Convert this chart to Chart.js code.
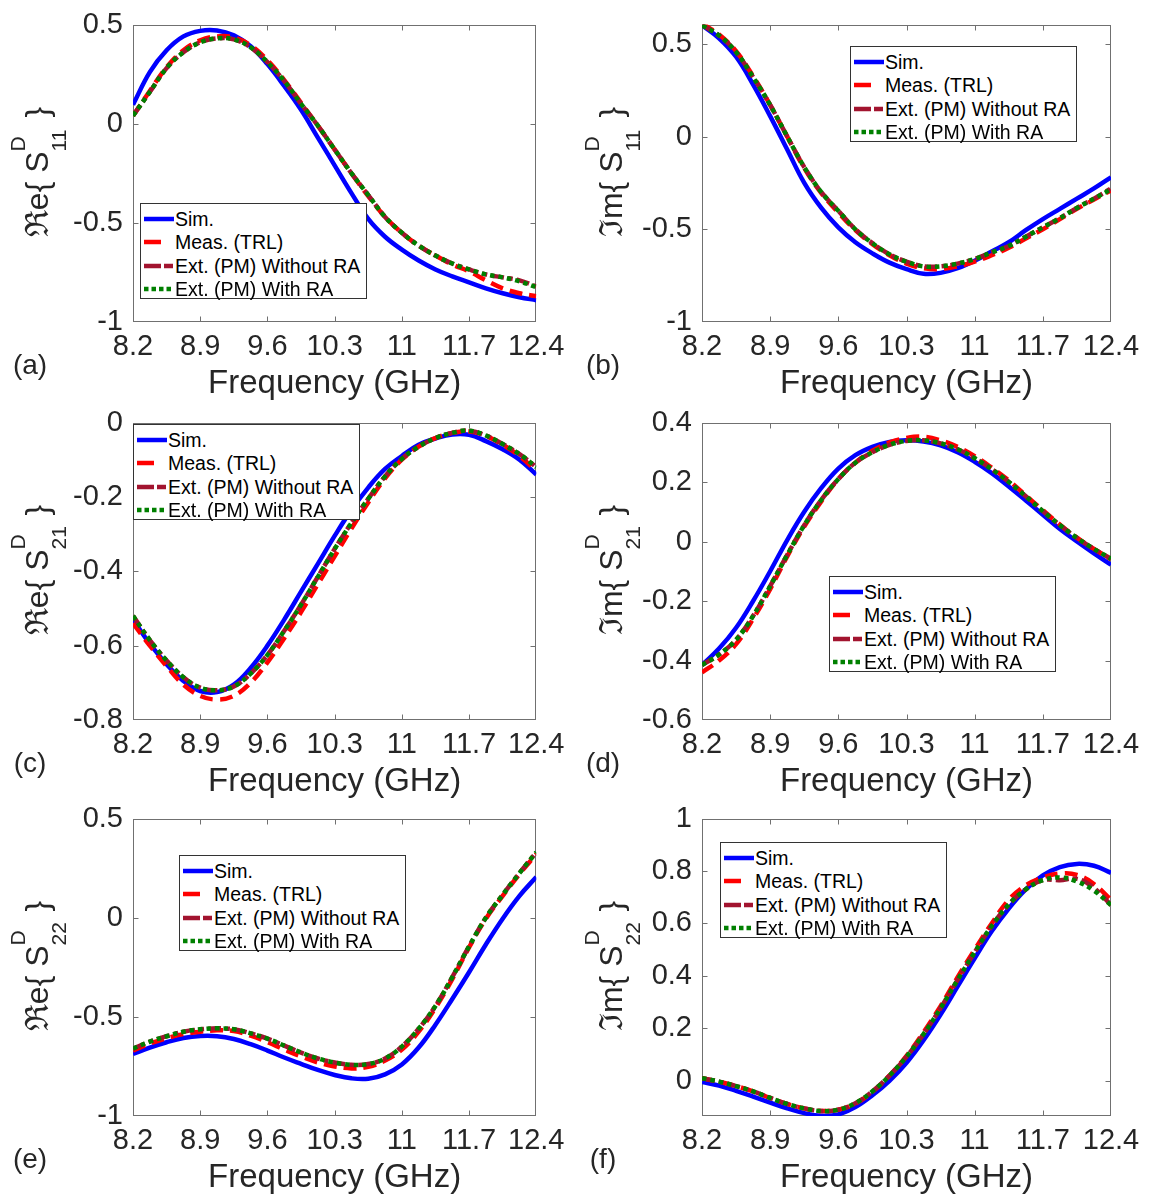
<!DOCTYPE html>
<html>
<head>
<meta charset="utf-8">
<script src="https://cdn.jsdelivr.net/npm/chart.js@4.4.1/dist/chart.umd.min.js"></script>
<style>
html, body { margin: 0; padding: 0; background: #fff; }
#fig { position: relative; width: 1155px; height: 1196px; overflow: hidden;
       font-family: "Liberation Sans", Arial, Helvetica, sans-serif; background: #fff; }
#fig canvas { position: absolute; }
.ylab { position: absolute; white-space: nowrap; font-size: 32px; line-height: 32px; color: #262626;
        transform: translate(-50%, -50%) rotate(-90deg); }
.ss { display: inline-block; position: relative; width: 25px; height: 0; }
.ss span { position: absolute; left: 0; font-size: 21px; line-height: 21px; }
.plab { position: absolute; font-size: 28px; line-height: 28px; color: #262626; transform: translate(-50%, -50%); }
.leg { position: absolute; width: 227px; height: 96px; box-sizing: border-box; border: 1px solid #333; background: #fff; }
.leg .row { position: absolute; left: 0; right: 0; height: 20px; }
.leg svg { position: absolute; left: 2px; top: 5px; }
.leg .txt { position: absolute; left: 34px; top: 0; font-size: 19.5px; line-height: 20px; color: #000; white-space: nowrap; }
</style>
</head>
<body>
<div id="fig"></div>
<script>
// ---------- data ----------
const freq = [8.2, 8.375, 8.55, 8.725, 8.9, 9.075, 9.25, 9.425, 9.6, 9.775, 9.95, 10.125, 10.3,
              10.475, 10.65, 10.825, 11.0, 11.175, 11.35, 11.525, 11.7, 11.875, 12.05, 12.225, 12.4];
const xTickValues = [8.2, 8.9, 9.6, 10.3, 11, 11.7, 12.4];
const xAxisTitle = 'Frequency (GHz)';
const seriesNames = ['Sim.', 'Meas. (TRL)', 'Ext. (PM) Without RA', 'Ext. (PM) With RA'];

// (a) Re{S11}
const reS11_sim   = [0.095, 0.26, 0.37, 0.44, 0.468, 0.47, 0.445, 0.39, 0.30, 0.19, 0.07, -0.07, -0.21,
                     -0.35, -0.48, -0.57, -0.635, -0.69, -0.735, -0.77, -0.80, -0.83, -0.855, -0.875, -0.89];
const reS11_meas  = [0.04, 0.165, 0.285, 0.37, 0.42, 0.44, 0.435, 0.395, 0.32, 0.22, 0.105, -0.01, -0.13,
                     -0.25, -0.365, -0.47, -0.55, -0.615, -0.665, -0.71, -0.745, -0.79, -0.83, -0.855, -0.87];
const reS11_extNo = [0.04, 0.16, 0.28, 0.36, 0.41, 0.43, 0.425, 0.385, 0.31, 0.215, 0.10, -0.01, -0.13,
                     -0.25, -0.36, -0.47, -0.55, -0.615, -0.665, -0.705, -0.735, -0.76, -0.775, -0.79, -0.82];
const reS11_extRA = [0.04, 0.16, 0.28, 0.36, 0.41, 0.43, 0.425, 0.385, 0.31, 0.215, 0.10, -0.01, -0.13,
                     -0.25, -0.36, -0.47, -0.55, -0.615, -0.665, -0.705, -0.735, -0.76, -0.775, -0.795, -0.825];
const reS11_yTicks = [-1, -0.5, 0, 0.5];
const reS11_yRange = [-1, 0.5];

// (b) Im{S11}
const imS11_sim   = [0.60, 0.53, 0.43, 0.28, 0.11, -0.07, -0.25, -0.385, -0.49, -0.57, -0.63, -0.68, -0.715,
                     -0.74, -0.735, -0.71, -0.67, -0.62, -0.57, -0.505, -0.445, -0.39, -0.335, -0.28, -0.22];
const imS11_meas  = [0.61, 0.55, 0.46, 0.325, 0.17, 0.0, -0.17, -0.305, -0.41, -0.505, -0.58, -0.64, -0.685,
                     -0.71, -0.715, -0.70, -0.675, -0.64, -0.60, -0.55, -0.50, -0.445, -0.39, -0.34, -0.29];
const imS11_extNo = [0.60, 0.545, 0.455, 0.32, 0.17, 0.0, -0.165, -0.30, -0.40, -0.50, -0.575, -0.635, -0.675,
                     -0.70, -0.70, -0.685, -0.66, -0.625, -0.59, -0.54, -0.49, -0.44, -0.385, -0.335, -0.28];
const imS11_extRA = [0.60, 0.545, 0.455, 0.32, 0.17, 0.0, -0.165, -0.30, -0.40, -0.50, -0.575, -0.635, -0.675,
                     -0.70, -0.70, -0.685, -0.66, -0.625, -0.59, -0.54, -0.49, -0.44, -0.385, -0.335, -0.285];
const imS11_yTicks = [-1, -0.5, 0, 0.5];
const imS11_yRange = [-1, 0.604];

// (c) Re{S21}
const reS21_sim   = [-0.53, -0.595, -0.65, -0.695, -0.722, -0.725, -0.705, -0.66, -0.60, -0.53, -0.455, -0.38, -0.305,
                     -0.235, -0.175, -0.125, -0.09, -0.06, -0.043, -0.032, -0.033, -0.05, -0.072, -0.10, -0.14];
const reS21_meas  = [-0.54, -0.60, -0.655, -0.705, -0.735, -0.745, -0.735, -0.70, -0.645, -0.58, -0.51, -0.435, -0.36,
                     -0.285, -0.215, -0.15, -0.10, -0.065, -0.042, -0.028, -0.024, -0.036, -0.06, -0.09, -0.13];
const reS21_extNo = [-0.52, -0.585, -0.64, -0.685, -0.713, -0.72, -0.71, -0.675, -0.625, -0.56, -0.49, -0.415, -0.34,
                     -0.27, -0.205, -0.145, -0.098, -0.065, -0.042, -0.028, -0.022, -0.035, -0.058, -0.085, -0.12];
const reS21_extRA = [-0.52, -0.585, -0.64, -0.685, -0.713, -0.72, -0.71, -0.675, -0.625, -0.56, -0.49, -0.415, -0.34,
                     -0.27, -0.205, -0.145, -0.098, -0.065, -0.042, -0.028, -0.022, -0.035, -0.058, -0.085, -0.12];
const reS21_yTicks = [-0.8, -0.6, -0.4, -0.2, 0];
const reS21_yRange = [-0.8, 0];

// (d) Im{S21}
const imS21_sim   = [-0.415, -0.36, -0.29, -0.20, -0.10, 0.005, 0.10, 0.18, 0.245, 0.29, 0.318, 0.335, 0.34,
                     0.336, 0.323, 0.30, 0.268, 0.23, 0.185, 0.138, 0.09, 0.042, 0.0, -0.04, -0.078];
const imS21_meas  = [-0.44, -0.40, -0.345, -0.26, -0.16, -0.05, 0.05, 0.135, 0.21, 0.265, 0.305, 0.333, 0.348,
                     0.352, 0.34, 0.318, 0.287, 0.248, 0.205, 0.155, 0.105, 0.057, 0.013, -0.025, -0.06];
const imS21_extNo = [-0.415, -0.38, -0.33, -0.25, -0.15, -0.045, 0.055, 0.14, 0.21, 0.265, 0.30, 0.325, 0.338,
                     0.34, 0.33, 0.31, 0.28, 0.243, 0.20, 0.152, 0.102, 0.055, 0.012, -0.025, -0.058];
const imS21_extRA = [-0.415, -0.38, -0.33, -0.25, -0.15, -0.045, 0.055, 0.14, 0.21, 0.265, 0.30, 0.325, 0.338,
                     0.34, 0.33, 0.31, 0.28, 0.243, 0.20, 0.152, 0.102, 0.055, 0.012, -0.025, -0.058];
const imS21_yTicks = [-0.6, -0.4, -0.2, 0, 0.2, 0.4];
const imS21_yRange = [-0.6, 0.4];

// (e) Re{S22}
const reS22_sim   = [-0.687, -0.655, -0.628, -0.607, -0.597, -0.598, -0.612, -0.638, -0.67, -0.705, -0.737, -0.768, -0.793,
                     -0.81, -0.812, -0.79, -0.74, -0.655, -0.54, -0.41, -0.275, -0.135, -0.005, 0.11, 0.205];
const reS22_meas  = [-0.67, -0.635, -0.608, -0.587, -0.575, -0.568, -0.572, -0.595, -0.628, -0.665, -0.70, -0.73, -0.75,
                     -0.76, -0.752, -0.72, -0.665, -0.575, -0.455, -0.31, -0.15, -0.005, 0.11, 0.22, 0.32];
const reS22_extNo = [-0.66, -0.625, -0.598, -0.575, -0.563, -0.558, -0.563, -0.583, -0.61, -0.645, -0.68, -0.71, -0.73,
                     -0.742, -0.738, -0.71, -0.65, -0.56, -0.445, -0.30, -0.145, 0.0, 0.115, 0.225, 0.33];
const reS22_extRA = [-0.66, -0.625, -0.598, -0.575, -0.563, -0.558, -0.563, -0.583, -0.61, -0.645, -0.68, -0.71, -0.73,
                     -0.742, -0.738, -0.71, -0.65, -0.56, -0.445, -0.30, -0.145, 0.0, 0.115, 0.225, 0.33];
const reS22_yTicks = [-1, -0.5, 0, 0.5];
const reS22_yRange = [-1, 0.5];

// (f) Im{S22}
const imS22_sim   = [-0.004, -0.018, -0.038, -0.06, -0.083, -0.105, -0.123, -0.133, -0.128, -0.10, -0.055, 0.0, 0.069,
                     0.155, 0.253, 0.36, 0.467, 0.57, 0.657, 0.73, 0.783, 0.815, 0.827, 0.82, 0.793];
const imS22_meas  = [0.01, -0.003, -0.02, -0.04, -0.065, -0.088, -0.105, -0.115, -0.11, -0.087, -0.042, 0.02, 0.095,
                     0.185, 0.285, 0.395, 0.50, 0.60, 0.69, 0.745, 0.775, 0.79, 0.785, 0.75, 0.69];
const imS22_extNo = [0.01, -0.003, -0.02, -0.04, -0.065, -0.088, -0.105, -0.115, -0.11, -0.085, -0.04, 0.02, 0.092,
                     0.178, 0.277, 0.385, 0.49, 0.59, 0.672, 0.73, 0.765, 0.765, 0.77, 0.735, 0.67];
const imS22_extRA = [0.01, -0.003, -0.02, -0.04, -0.065, -0.088, -0.105, -0.115, -0.11, -0.085, -0.04, 0.02, 0.092,
                     0.178, 0.277, 0.385, 0.49, 0.59, 0.672, 0.73, 0.765, 0.775, 0.76, 0.725, 0.67];
const imS22_yTicks = [0, 0.2, 0.4, 0.6, 0.8, 1];
const imS22_yRange = [-0.134, 1];

const panelLetters = ['(a)', '(b)', '(c)', '(d)', '(e)', '(f)'];
const yLabelPrefix = ['ℜe{ S', 'ℑm{ S', 'ℜe{ S', 'ℑm{ S', 'ℜe{ S', 'ℑm{ S'];
const yLabelSup = ['D', 'D', 'D', 'D', 'D', 'D'];
const yLabelSub = ['11', '11', '21', '21', '22', '22'];

// ---------- styles / layout ----------
const seriesStyle = [
  { color: '#0000ff', dash: [], legendDash: 'none', order: 3 },
  { color: '#ff0000', dash: [13, 7], legendDash: '17 20', order: 2 },
  { color: '#a2142f', dash: [13, 4, 5, 4], legendDash: '17 3 9 10', order: 1 },
  { color: '#008000', dash: [4.5, 4], legendDash: '4.5 3', order: 0 }
];
const panels = [
  { series: [reS11_sim, reS11_meas, reS11_extNo, reS11_extRA], yTicks: reS11_yTicks, yRange: reS11_yRange, col: 0, row: 0, legend: [140, 203] },
  { series: [imS11_sim, imS11_meas, imS11_extNo, imS11_extRA], yTicks: imS11_yTicks, yRange: imS11_yRange, col: 1, row: 0, legend: [850, 46] },
  { series: [reS21_sim, reS21_meas, reS21_extNo, reS21_extRA], yTicks: reS21_yTicks, yRange: reS21_yRange, col: 0, row: 1, legend: [133, 424] },
  { series: [imS21_sim, imS21_meas, imS21_extNo, imS21_extRA], yTicks: imS21_yTicks, yRange: imS21_yRange, col: 1, row: 1, legend: [829, 576] },
  { series: [reS22_sim, reS22_meas, reS22_extNo, reS22_extRA], yTicks: reS22_yTicks, yRange: reS22_yRange, col: 0, row: 2, legend: [179, 855] },
  { series: [imS22_sim, imS22_meas, imS22_extNo, imS22_extRA], yTicks: imS22_yTicks, yRange: imS22_yRange, col: 1, row: 2, legend: [720, 842] }
];
const colGeom = [
  { canvasLeft: 0, width: 575, yWidth: 133, padRight: 34, ylabX: 37, plabX: 30 },
  { canvasLeft: 575, width: 580, yWidth: 127, padRight: 44, ylabX: 611, plabX: 603 }
];
const rowPlotTop = [22, 420, 816];
const PLOT_H = 300, TOP_PAD = 22, XAXIS_H = 80;
const FONT = '"Liberation Sans", Arial, Helvetica, sans-serif';
const TXT = '#262626';
const AXIS = '#707070';

Chart.defaults.font.family = FONT;

const boxPlugin = {
  id: 'matlabBox',
  beforeDatasetsDraw(chart) {
    const ctx = chart.ctx;
    const { left, right, top, bottom } = chart.chartArea;
    const xs = chart.scales.x, ys = chart.scales.y;
    ctx.save();
    ctx.strokeStyle = AXIS;
    ctx.lineWidth = 1;
    const L = Math.round(left) + 0.5, R = Math.round(right) - 0.5, T = Math.round(top) + 0.5, B = Math.round(bottom) - 0.5;
    ctx.strokeRect(L, T, R - L, B - T);
    const tl = 5;
    ctx.beginPath();
    xs.ticks.forEach(t => {
      const px = Math.round(xs.getPixelForValue(t.value)) + 0.5;
      if (px <= L + 1 || px >= R - 1) return;
      ctx.moveTo(px, B); ctx.lineTo(px, B - tl);
      ctx.moveTo(px, T); ctx.lineTo(px, T + tl);
    });
    ys.ticks.forEach(t => {
      const py = Math.round(ys.getPixelForValue(t.value)) + 0.5;
      if (py <= T + 1 || py >= B - 1) return;
      ctx.moveTo(L, py); ctx.lineTo(L + tl, py);
      ctx.moveTo(R, py); ctx.lineTo(R - tl, py);
    });
    ctx.stroke();
    ctx.restore();
  }
};

const fig = document.getElementById('fig');

panels.forEach((p, idx) => {
  const cg = colGeom[p.col];
  const plotTop = rowPlotTop[p.row];
  const canvas = document.createElement('canvas');
  const cTop = plotTop - TOP_PAD;
  const cH = TOP_PAD + PLOT_H + XAXIS_H;
  canvas.width = cg.width; canvas.height = cH;
  canvas.style.left = cg.canvasLeft + 'px';
  canvas.style.top = cTop + 'px';
  canvas.style.width = cg.width + 'px';
  canvas.style.height = cH + 'px';
  fig.appendChild(canvas);

  const datasets = p.series.map((vals, si) => ({
    label: seriesNames[si],
    data: freq.map((f, i) => ({ x: f, y: vals[i] })),
    borderColor: seriesStyle[si].color,
    backgroundColor: seriesStyle[si].color,
    borderWidth: 4.5,
    borderDash: seriesStyle[si].dash,
    borderCapStyle: 'butt',
    pointRadius: 0,
    tension: 0.4,
    fill: false,
    clip: 0,
    order: seriesStyle[si].order
  }));

  new Chart(canvas, {
    type: 'line',
    data: { datasets },
    options: {
      responsive: false,
      animation: false,
      events: [],
      layout: { padding: { left: 0, right: cg.padRight, top: TOP_PAD, bottom: 0 } },
      plugins: { legend: { display: false }, tooltip: { enabled: false }, title: { display: false } },
      scales: {
        x: {
          type: 'linear',
          min: freq[0], max: freq[freq.length - 1],
          afterBuildTicks: s => { s.ticks = xTickValues.map(v => ({ value: v })); },
          afterFit: s => { s.height = XAXIS_H; },
          grid: { display: false, drawTicks: false },
          border: { display: false },
          ticks: { autoSkip: false, maxRotation: 0, minRotation: 0, padding: 10.5, color: TXT,
                   font: { size: 29, lineHeight: 1 }, callback: v => String(v) },
          title: { display: true, text: xAxisTitle, color: TXT, font: { size: 33, lineHeight: 1 },
                   padding: { top: 0, bottom: 1.5 } }
        },
        y: {
          type: 'linear',
          min: p.yRange[0], max: p.yRange[1],
          afterBuildTicks: s => { s.ticks = p.yTicks.map(v => ({ value: v })); },
          afterFit: s => { s.width = cg.yWidth; },
          grid: { display: false, drawTicks: false },
          border: { display: false },
          ticks: { autoSkip: false, padding: 10, color: TXT, font: { size: 29, lineHeight: 1 },
                   callback: v => String(v) }
        }
      }
    },
    plugins: [boxPlugin]
  });

  // y-axis label (real text with stacked super/subscript)
  const yl = document.createElement('div');
  yl.className = 'ylab';
  yl.style.left = cg.ylabX + 'px';
  yl.style.top = (plotTop + PLOT_H / 2) + 'px';
  const pre = document.createElement('span'); pre.textContent = yLabelPrefix[idx];
  const ss = document.createElement('span'); ss.className = 'ss';
  const sup = document.createElement('span'); sup.textContent = yLabelSup[idx]; sup.style.top = '-41px';
  const sub = document.createElement('span'); sub.textContent = yLabelSub[idx]; sub.style.top = '0px';
  ss.appendChild(sup); ss.appendChild(sub);
  const post = document.createElement('span'); post.textContent = '\u00a0}';
  yl.appendChild(pre); yl.appendChild(ss); yl.appendChild(post);
  fig.appendChild(yl);

  // panel letter
  const pl = document.createElement('div');
  pl.className = 'plab';
  pl.textContent = panelLetters[idx];
  pl.style.left = cg.plabX + 'px';
  pl.style.top = (plotTop + PLOT_H + 43) + 'px';
  fig.appendChild(pl);

  // legend
  const lg = document.createElement('div');
  lg.className = 'leg';
  lg.style.left = p.legend[0] + 'px';
  lg.style.top = p.legend[1] + 'px';
  seriesNames.forEach((name, si) => {
    const row = document.createElement('div');
    row.className = 'row';
    row.style.top = (4.5 + si * 23.5) + 'px';
    const st = seriesStyle[si];
    row.innerHTML = '<svg width="32" height="10" viewBox="0 0 32 10"><line x1="1" y1="5" x2="31" y2="5" stroke="' +
      st.color + '" stroke-width="4.5"' + (st.legendDash === 'none' ? '' : ' stroke-dasharray="' + st.legendDash + '"') +
      '/></svg>';
    const t = document.createElement('span');
    t.className = 'txt';
    t.textContent = name;
    row.appendChild(t);
    lg.appendChild(row);
  });
  fig.appendChild(lg);
});
</script>
</body>
</html>
